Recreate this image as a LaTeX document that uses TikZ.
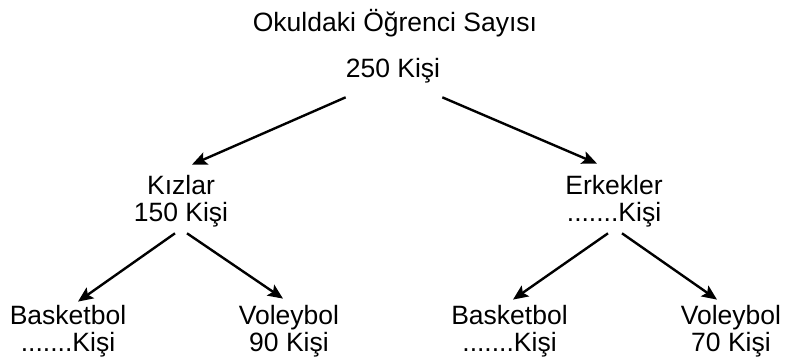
\documentclass[tikz,border=0pt]{standalone}
\usepackage{fontspec}
\setmainfont{Liberation Sans}
\usetikzlibrary{arrows.meta,calc,positioning}

\begin{document}
\begin{tikzpicture}[x=1pt,y=-1pt,
  lbl/.style={align=center,inner sep=0pt,anchor=base,font=\fontsize{26.5}{27}\selectfont},
  arr/.style={-{Stealth[length=15pt,width=13pt,inset=3pt]},line width=2.4pt}]
\useasboundingbox (0,0) rectangle (785,363);

\node[lbl] (title) at (395,31.7) {Okuldaki Öğrenci Sayısı};
\node[lbl] (top) at (393,78) {250 Kişi};

% base anchor sits on the last line
\node[lbl] (kiz) at (181,222) {Kızlar\\150 Kişi};
\node[lbl] (erk) at (614,222) {Erkekler\\.......Kişi};

\node[lbl] (kb) at (68,352) {Basketbol\\.......Kişi};
\node[lbl] (kv) at (289,352) {Voleybol\\90 Kişi};
\node[lbl] (eb) at (509.5,352) {Basketbol\\.......Kişi};
\node[lbl] (ev) at (731,352) {Voleybol\\70 Kişi};

\draw[arr] ([yshift=-13.5pt]top.south west) -- ([xshift=11pt,yshift=11pt]kiz.north);
\draw[arr] ([xshift=2pt,yshift=-13.5pt]top.south east) -- ([xshift=-17pt,yshift=12pt]erk.north);

\draw[arr] ([xshift=-6pt,yshift=-5.5pt]kiz.south) -- ([xshift=10pt,yshift=4pt]kb.north);
\draw[arr] ([xshift=6pt,yshift=-5.5pt]kiz.south) -- ([xshift=-6pt,yshift=7pt]kv.north);
\draw[arr] ([xshift=-6pt,yshift=-5.5pt]erk.south) -- ([xshift=3.5pt,yshift=6pt]eb.north);
\draw[arr] ([xshift=8pt,yshift=-5.5pt]erk.south) -- ([xshift=-14pt,yshift=6pt]ev.north);

\end{tikzpicture}
\end{document}
